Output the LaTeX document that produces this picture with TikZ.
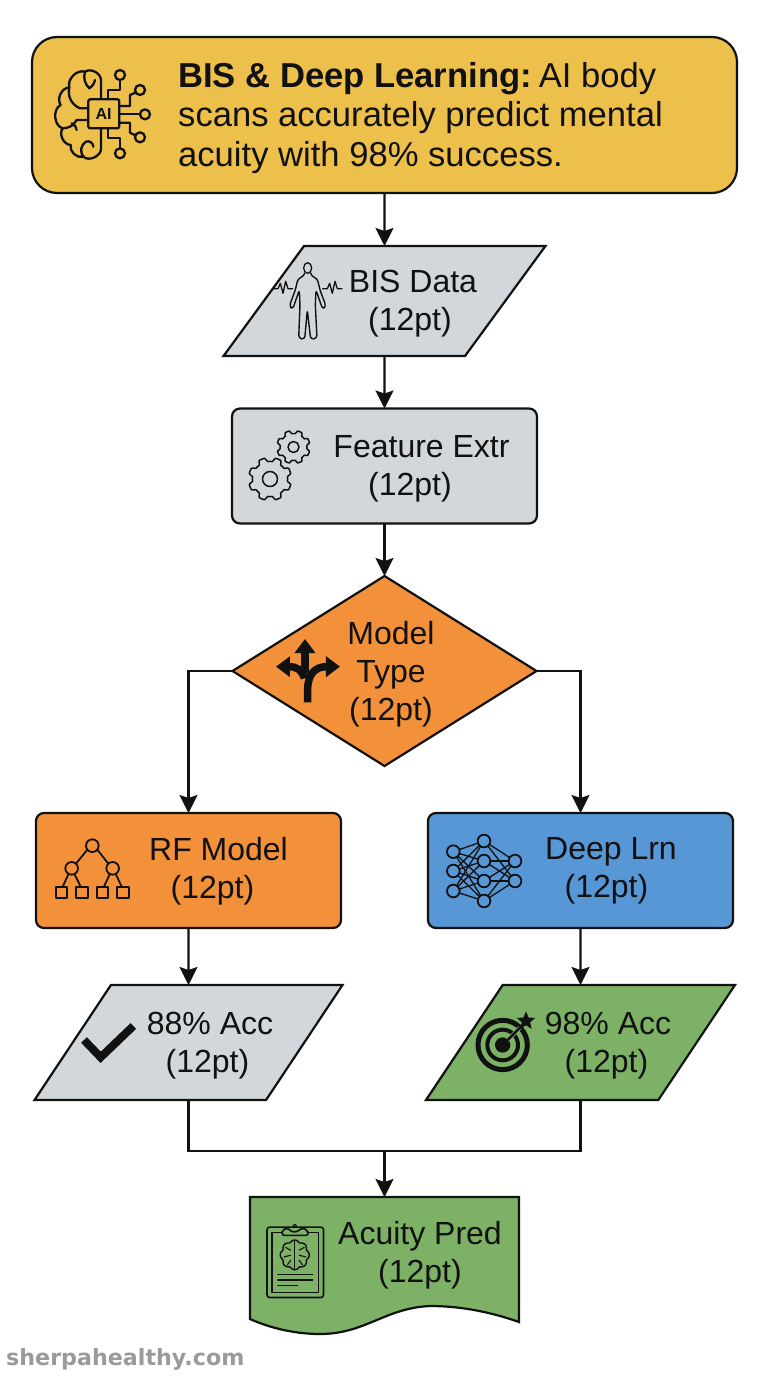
\documentclass[tikz,border=0pt]{standalone}
\usepackage{fontspec}
\setmainfont{Liberation Sans}
\newfontfamily\wmfont{DejaVu Sans}
\usetikzlibrary{shapes.geometric,arrows.meta}
\definecolor{cyellow}{HTML}{EDC04C}
\definecolor{cgray}{HTML}{D2D7DB}
\definecolor{corange}{HTML}{F29139}
\definecolor{cblue}{HTML}{5797D5}
\definecolor{cgreen}{HTML}{7DB166}
\definecolor{ink}{HTML}{111111}
\definecolor{wm}{HTML}{9A9A9A}
\tikzset{
  shp/.style={draw=ink,line width=2.2pt,outer sep=0pt,inner sep=0pt},
  procbox/.style={shp,rectangle,rounded corners=8pt,minimum width=305pt,minimum height=115pt},
  para/.style={shp,trapezium,trapezium left angle=#1,trapezium right angle=180-#1,minimum height=115pt,trapezium stretches=true},
  decide/.style={shp,diamond,minimum width=304pt,minimum height=190pt,aspect=1.6},
  lbl/.style={text=ink,font=\fontsize{32}{38.2}\selectfont,align=center,inner sep=0pt},
  conn/.style={draw=ink,line width=2.2pt},
  arr/.style={conn,-{Stealth[length=18pt,width=18pt,inset=3pt]}},
  ic/.style={draw=ink,line width=1.8pt,line cap=round,line join=round},
  icthin/.style={draw=ink,line width=1.3pt,line cap=round,line join=round}
}
\newcommand{\gearic}[6]{% cx cy mean-radius inner teeth fill
  \draw[icthin,line width=1.5pt,fill=#6] plot[domain=0:360,samples=145,variable=\t]
    ({#1+(#3-0.1*#3*max(-1,min(1,2.2*cos(#5*\t))))*cos(\t)},{#2+(#3-0.1*#3*max(-1,min(1,2.2*cos(#5*\t))))*sin(\t)}) -- cycle;
  \draw[icthin,line width=1.5pt] (#1,#2) circle[radius=#4];
}
\begin{document}
\begin{tikzpicture}[x=1pt,y=-1pt]
\useasboundingbox (0,0) rectangle (768,1376);
\fill[white] (0,0) rectangle (768,1376);

% nodes
\node[shp,fill=cyellow,rectangle,rounded corners=25pt,minimum width=705pt,minimum height=156pt] (top) at (384.5,115) {};
\node[para=64.7,fill=cgray,minimum width=322pt,minimum height=110pt] (bis) at (384.5,301) {\phantom{x}};
\node[procbox,fill=cgray] (feat) at (384.5,466) {};
\node[decide,fill=corange] (model) at (384.5,671) {};
\node[procbox,fill=corange] (rf) at (188.5,870.5) {};
\node[procbox,fill=cblue] (deep) at (580.5,870.5) {};
\node[para=65,fill=cgray,minimum width=308pt] (acc88) at (188.5,1042.5) {\phantom{x}};
\node[para=65,fill=cgreen,minimum width=309pt] (acc98) at (580.5,1042.5) {\phantom{x}};
\node[rectangle,inner sep=0pt,outer sep=0pt,minimum width=269pt,minimum height=138pt] (pred) at (384.5,1266) {};
\fill[cgreen,draw=ink,line width=2.2pt,line join=miter] (pred.north west) -- (pred.north east) -- (519,1322)
  .. controls (485,1310) and (455,1306) .. (430,1306)
  .. controls (385,1308) and (365,1334) .. (320,1334)
  .. controls (295,1334) and (270,1328) .. (250,1319) -- cycle;
\coordinate (join) at (384.5,1151);

% connectors
\draw[arr] (top.south) -- (bis.north);
\draw[arr] (bis.south) -- (feat.north);
\draw[arr] (feat.south) -- (model.north);
\draw[arr] (model.west) -| (rf.north);
\draw[arr] (model.east) -| (deep.north);
\draw[arr] (rf.south) -- (acc88.north);
\draw[arr] (deep.south) -- (acc98.north);
\draw[conn] (acc88.south) |- (join) -| (acc98.south);
\draw[arr] (join) -- (pred.north);

% labels
\node[lbl,anchor=west,align=left,font=\fontsize{34.6}{39.3}\selectfont] (toptext) at (178,118) {\textbf{BIS \& Deep Learning:}\kern-6pt{} AI body\\scans accurately predict mental\\acuity with 98\% success.};
\node[lbl] (t1) at (413,304) {BIS Data\\\hspace*{-6pt}(12pt)};
\node[lbl] (t2) at (421.5,469) {Feature Extr\\\hspace*{-23pt}(12pt)};
\node[lbl] (t3) at (391,674.5) {Model\\Type\\(12pt)};
\node[lbl] (t4) at (218.5,871) {RF Model\\\hspace*{-12pt}(12pt)};
\node[lbl] (t5) at (611,871) {Deep Lrn\\\hspace*{-9pt}(12pt)};
\node[lbl] (t6) at (210,1046) {88\% Acc\\\hspace*{-5pt}(12pt)};
\node[lbl] (t7) at (608,1046) {98\% Acc\\\hspace*{-3pt}(12pt)};
\node[lbl] (t8) at (420,1255) {Acuity Pred\\(12pt)};
\node[anchor=base west,inner sep=0pt,text=wm,font=\wmfont\bfseries\fontsize{22.2}{26}\selectfont] (wmark) at (6,1365) {sherpahealthy.com};

% --- brain AI icon
\begin{scope}[shift={(30,30)},x=0.3333pt,y=-0.3333pt,every path/.append style={line width=2.3pt}]
  \draw[ic,line width=2.3pt] (213,208) -- (213,150) to[bend right=60] (165,125) to[bend right=60] (118,172)
     to[bend right=60] (92,225) to[bend right=70] (98,295) to[bend right=60] (122,345)
     to[bend right=60] (160,380) to[bend right=70] (213,355) -- (213,295);
  \draw[ic,line width=2.3pt] (165,125) to[bend right=30] (178,175) to[bend right=20] (195,150);
  \draw[ic,line width=2.3pt] (118,172) to[bend right=40] (150,235) -- (175,235);
  \draw[ic,line width=2.3pt] (98,295) to[bend right=30] (140,270) -- (175,270);
  \draw[ic,line width=2.3pt] (125,280) to[bend left=30] (140,300);
  \draw[ic,line width=2.3pt] (160,380) to[bend left=50] (168,335) to[bend left=60] (190,350);
  \draw[ic,line width=2.3pt,rounded corners=2pt,fill=cyellow] (175,208) rectangle (268,295);
  \node[text=ink,inner sep=0pt,font=\bfseries\fontsize{16}{16}\selectfont] (aitext) at (221,252) {AI};
  \draw[ic,line width=2.3pt] (233,208) -- (233,180) -- (270,180) -- (270,150);
  \draw[ic,line width=2.3pt] (268,228) -- (300,228) -- (300,195) -- (316,188);
  \draw[ic,line width=2.3pt] (268,252) -- (330,252);
  \draw[ic,line width=2.3pt] (268,278) -- (300,278) -- (300,308) -- (316,316);
  \draw[ic,line width=2.3pt] (233,295) -- (233,325) -- (270,325) -- (270,355);
  \foreach \a/\b in {270/135,330/180,345/253,330/322,270/370}{\draw[ic,line width=2.3pt] (\a,\b) circle[radius=15];}
\end{scope}

% --- human icon
\begin{scope}[shift={(220,240)},x=0.3333pt,y=-0.3333pt]
  \draw[icthin] (263,84) ellipse[x radius=12,y radius=16];
  \draw[icthin,line width=1.4pt,rounded corners=3pt] (254,100) -- (252,108) -- (234,116) -- (226,150) -- (208,198) -- (218,208) -- (238,150) -- (240,195) -- (236,295) -- (254,298) -- (262,210)
     -- (272,298) -- (291,295) -- (286,195) -- (288,150) -- (308,208) -- (318,198) -- (300,150) -- (292,116) -- (274,108) -- (272,100);
  \draw[icthin] (160,146) -- (174,146) -- (181,130) -- (189,160) -- (197,124) -- (204,146) -- (218,146);
  \draw[icthin] (308,146) -- (322,146) -- (329,130) -- (337,160) -- (345,124) -- (352,146) -- (366,146);
\end{scope}

% --- gears
\gearic{293.5}{447}{15}{5.5}{8}{cgray}
\gearic{270}{479}{19.5}{7.5}{8}{cgray}

% --- fork arrows
\begin{scope}[shift={(225,570)},x=0.3333pt,y=-0.3333pt]
  \tikzset{fork/.style={draw=ink,line width=7.5pt,-{Triangle[length=14pt,width=20pt]}}}
  \draw[fork] (240,310) -- (240,207);
  \draw[fork] (238,325) .. controls (232,300) and (215,290) .. (153,290);
  \draw[fork] (248,397) -- (248,360) .. controls (248,310) and (272,290) .. (345,290);
\end{scope}

% --- tree icon
\begin{scope}[shift={(30,805)},x=0.3333pt,y=-0.3333pt]
  \draw[ic] (172,134) -- (138,176) (202,134) -- (235,176);
  \draw[ic] (116,206) -- (98,245) (133,206) -- (152,245) (240,206) -- (222,245) (257,206) -- (275,245);
  \foreach \a/\b in {187/122,125/190,248/190}{\draw[ic] (\a,\b) circle[radius=19];}
  \foreach \a in {95,156,218,279}{\draw[ic] (\a-17,245) rectangle (\a+17,279);}
\end{scope}

% --- neural net icon
\begin{scope}[shift={(420,805)},x=0.3333pt,y=-0.3333pt]
  \foreach \a in {140,198,258}{\foreach \b in {108,168,228,288}{\draw[icthin] (100,\a) -- (192,\b);}}
  \foreach \a in {108,168,228,288}{\foreach \b in {168,228}{\draw[icthin] (192,\a) -- (285,\b);}}
  \foreach \a/\b in {100/140,100/198,100/258,192/108,192/168,192/228,192/288,285/168,285/228}{\draw[ic,fill=cblue] (\a,\b) circle[radius=19];}
\end{scope}

% --- check icon
\begin{scope}[shift={(30,805)},x=0.3333pt,y=-0.3333pt]
  \draw[draw=ink,line width=8pt,line join=miter] (162,705) -- (212,757) -- (310,663);
\end{scope}

% --- target icon
\begin{scope}[shift={(420,805)},x=0.3333pt,y=-0.3333pt]
  \draw[draw=ink,line width=5pt] (248,720) circle[radius=74];
  \draw[draw=ink,line width=4pt] (248,720) circle[radius=46];
  \fill[ink] (248,720) circle[radius=23];
  \draw[draw=cgreen,line width=4pt] (262,706) -- (300,668);
  \draw[draw=ink,line width=2.5pt] (248,720) -- (308,660);
  \fill[ink] plot[domain=0:9,samples=10,variable=\t] ({318+(29-8*(1-cos(180*\t)))*cos(-90+36*\t)},{648+(29-8*(1-cos(180*\t)))*sin(-90+36*\t)}) -- cycle;
\end{scope}

% --- clipboard icon
\begin{scope}[shift={(0,1190)},x=0.338pt,y=-0.338pt]
  \draw[icthin,line width=1.6pt,rounded corners=2.5pt] (790,110) rectangle (957,318);
  \draw[icthin,line width=1.4pt] (805,125) rectangle (943,303);
  \draw[icthin,line width=1.6pt,fill=cgreen,rounded corners=2pt] (835,134) -- (835,118) -- (855,112) arc[start angle=160,end angle=20,radius=18] -- (910,118) -- (912,134) -- cycle;
  \draw[icthin,line width=1.1pt] (872,106) circle[radius=5];
  \draw[icthin,line width=1.4pt] plot[domain=0:360,samples=73,variable=\t] ({872+(37+6*abs(cos(4*\t)))*cos(\t)},{192+(37+6*abs(cos(4*\t)))*1.02*sin(\t)}) -- cycle;
  \draw[icthin,line width=1.2pt] (872,150) -- (872,235);
  \draw[icthin,line width=1.1pt] (845,170) -- (860,178) (840,198) -- (860,193) (850,222) -- (860,208) (900,170) -- (885,178) (905,198) -- (885,193) (895,222) -- (885,208);
  \draw[icthin,line width=1.4pt] (822,250) -- (925,250) (822,266) -- (925,266) (822,282) -- (880,282);
\end{scope}
\end{tikzpicture}
\end{document}
